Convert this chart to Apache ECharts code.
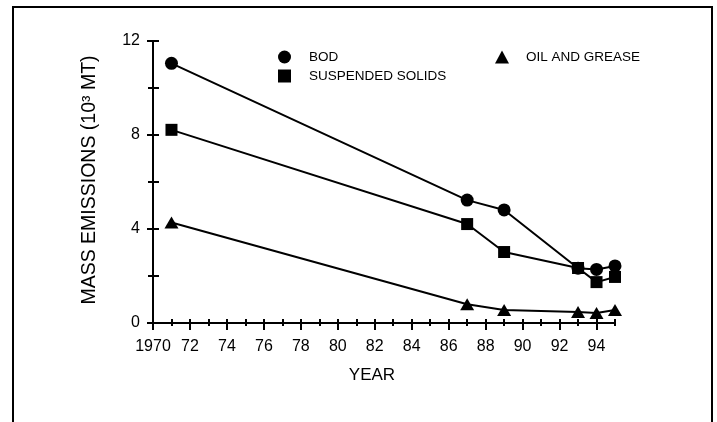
<!DOCTYPE html>
<html>
<head>
<meta charset="utf-8">
<script src="https://cdn.jsdelivr.net/npm/echarts@6/dist/echarts.min.js"></script>
<style>html,body{margin:0;padding:0;background:#fff}#c{width:717px;height:422px}</style>
</head>
<body>
<div id="c"></div>
<script>
// ---- data ----
var years = [1971, 1987, 1989, 1993, 1994, 1995];
var bod = [11.05, 5.23, 4.81, 2.33, 2.28, 2.43];
var suspendedSolids = [8.22, 4.21, 3.02, 2.34, 1.74, 1.96];
var oilGrease = [4.28, 0.80, 0.55, 0.47, 0.43, 0.55];
var majorYearTicks = [1970,1972,1974,1976,1978,1980,1982,1984,1986,1988,1990,1992,1994];
var minorYearTicks = [1971,1973,1975,1977,1979,1981,1983,1985,1987,1989,1991,1993,1995];
var yMajorTicks = [0, 4, 8, 12];
var yMinorTicks = [2, 6, 10];

var FONT = 'Liberation Sans, Arial, Helvetica, sans-serif';
function pairs(vals){ return years.map(function(y,i){ return [y, vals[i]]; }); }

var chart = echarts.init(document.getElementById('c'));
function xa(extra){
  var base = {type:'value', min:1970, max:1995, interval:1, position:'bottom',
    axisLine:{show:false, onZero:false}, splitLine:{show:false},
    axisLabel:{show:false}, axisTick:{show:false}};
  return Object.assign(base, extra);
}
function ya(extra){
  var base = {type:'value', min:0, max:12, interval:2, position:'left',
    axisLine:{show:false}, splitLine:{show:false},
    axisLabel:{show:false}, axisTick:{show:false}};
  return Object.assign(base, extra);
}
var option = {
  animation:false,
  backgroundColor:'#fff',
  textStyle:{fontFamily:FONT},
  grid:{left:153, right:102, top:41, bottom:99, containLabel:false},
  graphic:[{type:'polyline', shape:{points:[[13,440],[13,7],[712,7],[712,440]]},
    style:{stroke:'#000', lineWidth:2, fill:null}, silent:true}],
  legend:[
    {left:273, top:45, orient:'vertical', itemWidth:13, itemHeight:13, itemGap:5,
      textStyle:{fontFamily:FONT, fontSize:13.5, color:'#000', padding:[0,0,0,13]},
      data:[{name:'BOD', icon:'circle'},{name:'SUSPENDED SOLIDS', icon:'rect'}]},
    {left:490, top:45, orient:'vertical', itemWidth:14, itemHeight:13,
      textStyle:{fontFamily:FONT, fontSize:13.5, color:'#000', padding:[0,0,0,12]},
      data:[{name:'OIL AND GREASE', icon:'triangle'}]}
  ],
  xAxis:[
    xa({axisLine:{show:true, onZero:false, lineStyle:{color:'#000', width:2}},
      axisTick:{show:true, length:7, lineStyle:{color:'#000', width:2}, customValues:majorYearTicks},
      axisLabel:{show:true, margin:16, color:'#000', fontSize:16, fontFamily:FONT,
        customValues:majorYearTicks,
        formatter:function(v){ return v===1970 ? '1970' : String(v).slice(2); }},
      name:'YEAR', nameLocation:'middle', nameGap:44,
      nameTextStyle:{color:'#000', fontSize:17, fontFamily:FONT, padding:[0,24,0,0]}}),
    xa({axisTick:{show:true, inside:true, length:4, lineStyle:{color:'#000', width:2}, customValues:majorYearTicks.concat(minorYearTicks)}}),
    xa({axisTick:{show:true, length:3, lineStyle:{color:'#000', width:2}, customValues:minorYearTicks}})
  ],
  yAxis:[
    ya({axisLine:{show:true, lineStyle:{color:'#000', width:2}},
      axisTick:{show:true, length:6, lineStyle:{color:'#000', width:2}, customValues:yMajorTicks},
      axisLabel:{show:true, margin:13, color:'#000', fontSize:16, fontFamily:FONT, customValues:yMajorTicks},
      name:'MASS EMISSIONS (10³ MT)', nameLocation:'middle', nameGap:53,
      nameTextStyle:{color:'#000', fontSize:19.5, fontFamily:FONT, padding:[0,0,0,4]}}),
    ya({axisTick:{show:true, inside:true, length:6, lineStyle:{color:'#000', width:2}, customValues:yMajorTicks.concat(yMinorTicks)}}),
    ya({axisTick:{show:true, length:5, lineStyle:{color:'#000', width:2}, customValues:yMinorTicks}})
  ],
  series:[
    {name:'BOD', type:'line', data:pairs(bod), symbol:'circle', symbolSize:13,
      lineStyle:{color:'#000', width:2}, itemStyle:{color:'#000'}, z:3},
    {name:'SUSPENDED SOLIDS', type:'line', data:pairs(suspendedSolids), symbol:'rect', symbolSize:12,
      lineStyle:{color:'#000', width:2}, itemStyle:{color:'#000'}, z:4},
    {name:'OIL AND GREASE', type:'line', data:pairs(oilGrease), symbol:'triangle', symbolSize:[14,12],
      lineStyle:{color:'#000', width:2}, itemStyle:{color:'#000'}, z:3}
  ]
};
chart.setOption(option);
</script>
</body>
</html>
